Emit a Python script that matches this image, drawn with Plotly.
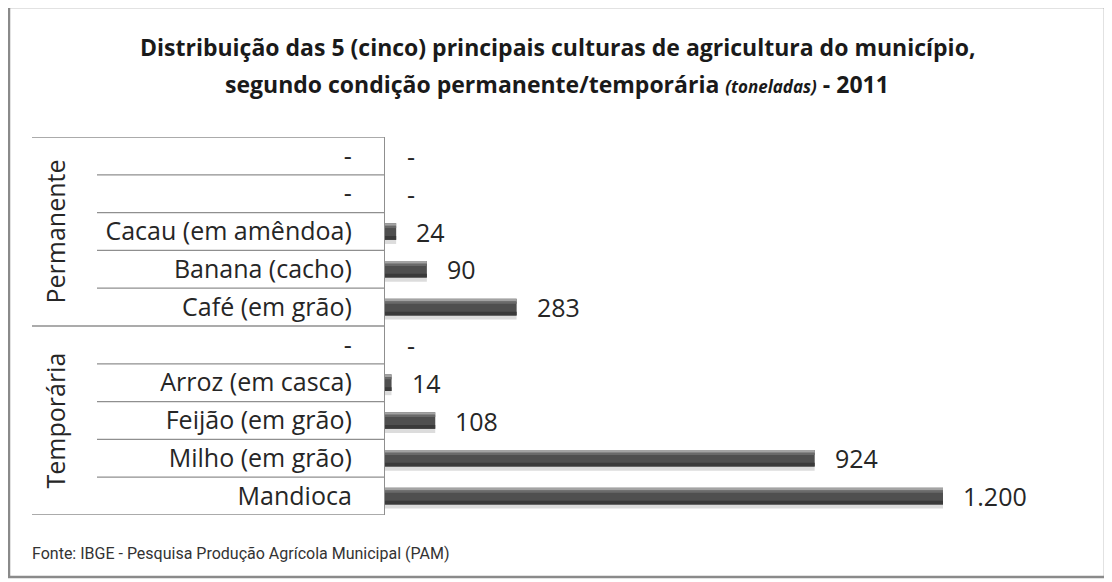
import plotly.graph_objects as go

# ---------------- data ----------------
perm_labels = ["-", "-", "Cacau (em amêndoa)", "Banana (cacho)", "Café (em grão)"]
perm_values = [None, None, 24, 90, 283]
temp_labels = ["-", "Arroz (em casca)", "Feijão (em grão)", "Milho (em grão)", "Mandioca"]
temp_values = [None, 14, 108, 924, 1200]
groups = ["Permanente", "Temporária"]

title_line1 = "Distribuição das 5 (cinco) principais culturas de agricultura do município,"
title_line2a = "segundo condição permanente/temporária "
title_unit = "(toneladas)"
title_line2b = " - 2011"
source = "Fonte: IBGE - Pesquisa Produção Agrícola Municipal (PAM)"

labels = perm_labels + temp_labels
values = perm_values + temp_values
pos = list(range(len(labels)))

# ---------------- layout geometry ----------------
# The page places the figure 8px from the top-left corner (body margin),
# so the figure is 8px smaller and every reference pixel is shifted by 8.
OFF = 8
W, H = 1112 - OFF, 582 - OFF
PL, PR, PT, PB = 385 - OFF, 1090 - OFF, 137 - OFF, 515 - OFF   # plot area


def px_x(p):
    return (p - OFF - PL) / (PR - PL)


def px_y(p):
    return (PB - (p - OFF)) / (PB - PT)


FONT = "Open Sans"
TXT = "#262626"

fig = go.Figure()


def bar_layer(offset, width, color):
    fig.add_trace(go.Bar(orientation="h", y=pos, x=values, width=width, offset=offset,
                         marker=dict(color=color, line=dict(width=0)), hoverinfo="skip"))


bar_layer(-0.14, 0.47, "#dcdcdc")   # soft shadow below
bar_layer(-0.22, 0.44, "#4f4f4f")   # body
bar_layer(-0.22, 0.07, "#a3a3a3")   # light top edge
bar_layer(-0.15, 0.06, "#6a6a6a")   # transition under the edge
bar_layer(0.12, 0.10, "#3a3a3a")    # darker bottom

annotations = []
# value labels
for p, v in zip(pos, values):
    if v is None:
        annotations.append(dict(x=0, y=p, xref="x", yref="y", text="-", showarrow=False,
                                xanchor="left", xshift=20, font=dict(family=FONT, size=25, color=TXT)))
    else:
        annotations.append(dict(x=v, y=p, xref="x", yref="y", text=f"{v:,}".replace(",", "."),
                                showarrow=False, xanchor="left", xshift=18,
                                font=dict(family=FONT, size=25, color=TXT)))

# group labels
n_perm = len(perm_labels)
n_temp = len(temp_labels)
annotations.append(dict(x=px_x(54), y=(n_perm - 1) / 2, xref="paper", yref="y", text=groups[0],
                        xanchor="center", yanchor="middle",
                        textangle=-90, showarrow=False, font=dict(family=FONT, size=25, color=TXT)))
annotations.append(dict(x=px_x(54), y=n_perm + (n_temp - 1) / 2, xref="paper", yref="y", text=groups[1],
                        xanchor="center", yanchor="middle",
                        textangle=-90, showarrow=False, font=dict(family=FONT, size=25, color=TXT)))

# titles
TFONT = dict(family="Open Sans", size=23, color="#1a1a1a")
annotations.append(dict(x=px_x(557), y=px_y(47), xref="paper", yref="paper", text=f"<b>{title_line1}</b>",
                        xanchor="center", yanchor="middle", showarrow=False, font=TFONT))
annotations.append(dict(x=px_x(557), y=px_y(84), xref="paper", yref="paper",
                        text=f"<b>{title_line2a}<i><span style='font-size:17px'>{title_unit}</span></i>{title_line2b}</b>",
                        xanchor="center", yanchor="middle", showarrow=False, font=TFONT))
# source
annotations.append(dict(x=px_x(30), y=px_y(553), xref="paper", yref="paper", text=source,
                        xanchor="left", yanchor="middle",
                        showarrow=False, font=dict(family="Roboto", size=16, color="#333333")))

shapes = []
LINE = dict(color="#8f8f8f", width=1.3)
# table horizontal lines
for k in range(len(labels) + 1):
    yk = k - 0.5
    is_group_edge = k in (0, n_perm, len(labels))
    shapes.append(dict(type="line", xref="paper", yref="y", x0=px_x(32 if is_group_edge else 97), x1=0,
                       y0=yk, y1=yk, line=LINE, layer="below"))
# outer frame
shapes.append(dict(type="rect", xref="paper", yref="paper", x0=px_x(9), x1=px_x(1105), y0=px_y(577), y1=px_y(7),
                   line=dict(color="#8a8a8a", width=2.5), fillcolor="rgba(0,0,0,0)"))

fig.update_layout(
    width=W, height=H,
    margin=dict(l=PL, r=W - PR, t=PT, b=H - PB, pad=0),
    paper_bgcolor="white", plot_bgcolor="white",
    barmode="overlay", showlegend=False,
    annotations=annotations, shapes=shapes,
    xaxis=dict(range=[0, (PR - PL) / 0.465], showgrid=False, zeroline=False, showticklabels=False,
               showline=False, ticks=""),
    yaxis=dict(range=[len(labels) - 0.5, -0.5], tickvals=pos, ticktext=labels, showgrid=False,
               zeroline=False, showline=True, linecolor="#8f8f8f", linewidth=1.3, ticks="",
               ticklabelstandoff=27, tickfont=dict(family=FONT, size=25, color=TXT)),
)

fig.write_html("out.html")
